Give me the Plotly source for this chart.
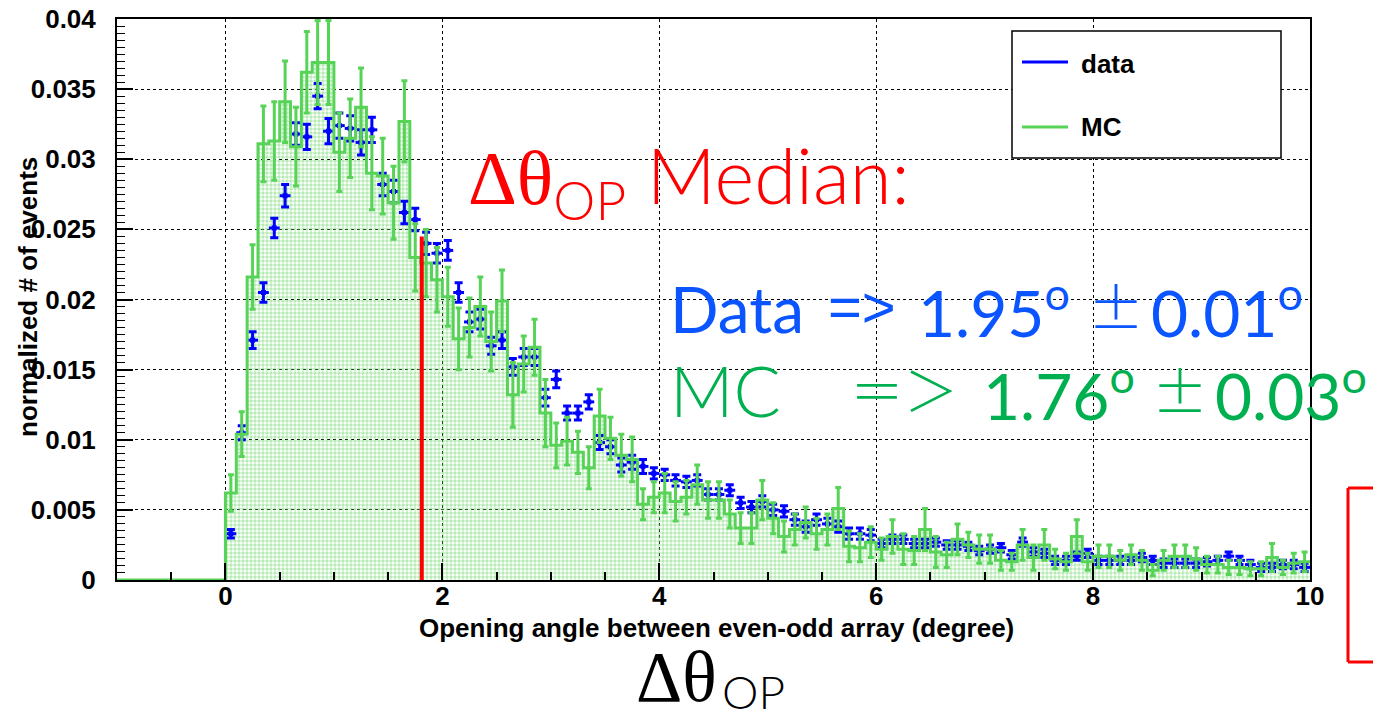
import numpy as np
import plotly.graph_objects as go

# ---------------- data ----------------
bin_width = 0.1
x_start = 0.0

data_vals = [0.0033, 0.0105, 0.0171, 0.0205, 0.0251, 0.0274, 0.0318, 0.0316, 0.0345, 0.0320,
             0.0324, 0.0322, 0.0312, 0.0321, 0.0282, 0.0277, 0.0262, 0.0257, 0.0240, 0.0233,
             0.0235, 0.0205, 0.0184, 0.0186, 0.0167, 0.0171, 0.0152, 0.0159, 0.0159, 0.0130,
             0.0143, 0.0119, 0.0119, 0.0127, 0.0098, 0.0095, 0.0082, 0.0084, 0.0081, 0.0076,
             0.0075, 0.0071, 0.0070, 0.0071, 0.0061, 0.0061, 0.0064, 0.0055, 0.0052, 0.0056,
             0.0050, 0.0049, 0.0043, 0.0038, 0.0043, 0.0040, 0.0038, 0.0033, 0.0033, 0.0032,
             0.0026, 0.0029, 0.0029, 0.0026, 0.0026, 0.0027, 0.0025, 0.0025, 0.0024, 0.0021,
             0.0022, 0.0023, 0.0018, 0.0027, 0.0020, 0.0019, 0.0014, 0.0014, 0.0017, 0.0019,
             0.0014, 0.0014, 0.0014, 0.0014, 0.0016, 0.0014, 0.0012, 0.0012, 0.0012, 0.0012,
             0.0013, 0.0014, 0.0017, 0.0014, 0.0011, 0.0009, 0.0009, 0.0011, 0.0011, 0.0009]

data_errs = [0.0003, 0.0005, 0.0006, 0.0007, 0.0007, 0.0008, 0.0008, 0.0009, 0.0009, 0.0009,
             0.0009, 0.0009, 0.0009, 0.0009, 0.0008, 0.0008, 0.0008, 0.0008, 0.0008, 0.0007,
             0.0007, 0.0007, 0.0007, 0.0007, 0.0006, 0.0006, 0.0006, 0.0006, 0.0006, 0.0006,
             0.0006, 0.0005, 0.0005, 0.0005, 0.0005, 0.0005, 0.0005, 0.0005, 0.0005, 0.0004,
             0.0004, 0.0004, 0.0004, 0.0004, 0.0004, 0.0004, 0.0004, 0.0004, 0.0004, 0.0004,
             0.0004, 0.0004, 0.0004, 0.0004, 0.0004, 0.0004, 0.0004, 0.0004, 0.0004, 0.0004,
             0.0003, 0.0003, 0.0003, 0.0003, 0.0003, 0.0003, 0.0003, 0.0003, 0.0003, 0.0003,
             0.0003, 0.0003, 0.0003, 0.0003, 0.0003, 0.0003, 0.0003, 0.0003, 0.0003, 0.0003,
             0.0003, 0.0003, 0.0003, 0.0003, 0.0003, 0.0003, 0.0003, 0.0003, 0.0003, 0.0003,
             0.0003, 0.0003, 0.0003, 0.0003, 0.0003, 0.0003, 0.0003, 0.0003, 0.0003, 0.0003]

mc_vals = [0.0062, 0.0104, 0.0216, 0.0311, 0.0313, 0.0341, 0.0309, 0.0362, 0.0369, 0.0369,
           0.0305, 0.0315, 0.0337, 0.0290, 0.0288, 0.0269, 0.0327, 0.0230, 0.0226, 0.0214,
           0.0202, 0.0172, 0.0180, 0.0195, 0.0170, 0.0199, 0.0132, 0.0154, 0.0166, 0.0119,
           0.0096, 0.0099, 0.0091, 0.0080, 0.0117, 0.0101, 0.0089, 0.0086, 0.0054, 0.0059,
           0.0062, 0.0056, 0.0059, 0.0068, 0.0057, 0.0057, 0.0047, 0.0037, 0.0037, 0.0057,
           0.0044, 0.0031, 0.0036, 0.0041, 0.0033, 0.0036, 0.0051, 0.0024, 0.0023, 0.0027,
           0.0022, 0.0031, 0.0022, 0.0021, 0.0036, 0.0020, 0.0018, 0.0029, 0.0025, 0.0022,
           0.0022, 0.0014, 0.0013, 0.0025, 0.0016, 0.0025, 0.0015, 0.0013, 0.0031, 0.0013,
           0.0017, 0.0017, 0.0014, 0.0018, 0.0014, 0.0007, 0.0014, 0.0017, 0.0017, 0.0015,
           0.0011, 0.0011, 0.0009, 0.0009, 0.0008, 0.0008, 0.0016, 0.0009, 0.0012, 0.0013]

mc_errs = [0.0013, 0.0016, 0.0023, 0.0027, 0.0028, 0.0029, 0.0028, 0.0029, 0.0030, 0.0030,
           0.0028, 0.0028, 0.0028, 0.0026, 0.0027, 0.0026, 0.0029, 0.0024, 0.0024, 0.0023,
           0.0021, 0.0022, 0.0021, 0.0021, 0.0021, 0.0022, 0.0023, 0.0020, 0.0020, 0.0024,
           0.0016, 0.0017, 0.0015, 0.0015, 0.0019, 0.0015, 0.0015, 0.0016, 0.0011, 0.0011,
           0.0014, 0.0014, 0.0012, 0.0014, 0.0013, 0.0013, 0.0010, 0.0011, 0.0011, 0.0014,
           0.0011, 0.0011, 0.0011, 0.0011, 0.0011, 0.0011, 0.0015, 0.0011, 0.0010, 0.0011,
           0.0008, 0.0012, 0.0011, 0.0010, 0.0015, 0.0011, 0.0009, 0.0011, 0.0009, 0.0010,
           0.0010, 0.0007, 0.0006, 0.0011, 0.0009, 0.0011, 0.0007, 0.0006, 0.0012, 0.0006,
           0.0008, 0.0008, 0.0007, 0.0007, 0.0007, 0.0004, 0.0007, 0.0008, 0.0008, 0.0008,
           0.0006, 0.0006, 0.0005, 0.0005, 0.0005, 0.0005, 0.0010, 0.0005, 0.0007, 0.0007]

x_tick_vals = [0, 2, 4, 6, 8, 10]
x_range = [-1, 10]
y_range = [0, 0.04]
median_line_x = 1.81
median_line_top = 0.0245

legend_labels = ["data", "MC"]
x_title = "Opening angle between even-odd array (degree)"
y_title = "normalized # of events"

# ---------------- derived positions ----------------
n = len(data_vals)
centers = np.round(x_start + bin_width / 2 + bin_width * np.arange(n), 4)
edges = np.round(x_start + bin_width * np.arange(len(mc_vals) + 1), 4)
step_x = [x_range[0]] + list(edges)
step_y = [0.0] + list(mc_vals) + [mc_vals[-1]]

BLUE = "#0000FF"
GREEN = "#57D357"
TXT_BLUE = "#0A55FF"
TXT_GREEN = "#00B050"
W, H = 1373, 722
ML, MR, MT, MB = 117, 63, 19, 142
PW, PH = W - ML - MR, H - MT - MB


def px(xp):
    return (xp - ML) / PW


def py(yp):
    return (H - MB - yp) / PH


fig = go.Figure()

# MC fill (dotted pattern)
fig.add_trace(go.Scatter(
    x=step_x, y=step_y, mode="lines", line=dict(shape="hv", width=0, color=GREEN),
    fill="tozeroy", fillcolor="rgba(0,0,0,0)",
    fillpattern=dict(shape=".", fgcolor="#6FD66F", bgcolor="rgba(255,255,255,0)", size=4, solidity=0.6),
    showlegend=False, hoverinfo="skip"))

# data points with error bars
fig.add_trace(go.Scatter(
    x=centers, y=data_vals, mode="markers",
    marker=dict(symbol="square", size=5, color=BLUE),
    error_x=dict(type="constant", value=bin_width / 2, color=BLUE, thickness=3, width=0),
    error_y=dict(type="data", array=data_errs, color=BLUE, thickness=3, width=4),
    name=legend_labels[0], showlegend=False))

# MC step line
fig.add_trace(go.Scatter(
    x=step_x, y=step_y, mode="lines", line=dict(shape="hv", width=3, color=GREEN),
    name=legend_labels[1], showlegend=False))

# MC error bars
fig.add_trace(go.Scatter(
    x=centers, y=mc_vals, mode="markers", marker=dict(size=1, color=GREEN, opacity=0),
    error_y=dict(type="data", array=mc_errs, color=GREEN, thickness=3, width=3),
    showlegend=False, hoverinfo="skip"))

tickfont = dict(family="Liberation Sans", size=26, color="black", weight="bold")

fig.update_layout(
    width=W, height=H, margin=dict(l=ML, r=MR, t=MT, b=MB, autoexpand=False),
    paper_bgcolor="white", plot_bgcolor="white", showlegend=False,
    xaxis=dict(range=x_range, tickmode="array", tickvals=x_tick_vals, ticks="inside",
               ticklen=17, tickwidth=1.5, tickcolor="black", showline=True, linecolor="black",
               linewidth=2, mirror=True, showgrid=True, gridcolor="black", griddash="dot",
               gridwidth=1.3, zeroline=False, tickfont=tickfont, ticklabelstandoff=-8,
               automargin=False,
               minor=dict(ticks="inside", ticklen=8, tickwidth=1.5, tickcolor="black",
                          dtick=0.5, tick0=0, showgrid=False)),
    yaxis=dict(range=y_range, dtick=0.005, tick0=0, ticks="inside", ticklen=16, tickwidth=1.5,
               tickcolor="black", showline=True, linecolor="black", linewidth=2, mirror=True,
               showgrid=True, gridcolor="black", griddash="dot", gridwidth=1.3, zeroline=False,
               tickfont=tickfont, ticklabelstandoff=14, automargin=False,
               minor=dict(ticks="inside", ticklen=8, tickwidth=1.2, tickcolor="black",
                          dtick=0.0005, tick0=0, showgrid=False)),
)

# median line
fig.add_shape(type="line", xref="x", yref="y", x0=median_line_x, x1=median_line_x,
              y0=0, y1=median_line_top, line=dict(color="red", width=4), layer="above")

# legend box (drawn manually, ROOT style)
fig.add_shape(type="rect", xref="paper", yref="paper", x0=px(1012), x1=px(1281), y0=py(158), y1=py(31),
              line=dict(color="black", width=1.5), fillcolor="white", layer="above")
fig.add_shape(type="line", xref="paper", yref="paper", x0=px(1022), x1=px(1068), y0=py(62), y1=py(62),
              line=dict(color=BLUE, width=3), layer="above")
fig.add_shape(type="line", xref="paper", yref="paper", x0=px(1022), x1=px(1068), y0=py(127), y1=py(127),
              line=dict(color=GREEN, width=3), layer="above")
legfont = dict(family="Liberation Sans", size=26, color="black", weight="bold")
fig.add_annotation(xref="paper", yref="paper", x=px(1079), y=py(64), text=legend_labels[0],
                   showarrow=False, xanchor="left", yanchor="middle", font=legfont)
fig.add_annotation(xref="paper", yref="paper", x=px(1079), y=py(127), text=legend_labels[1],
                   showarrow=False, xanchor="left", yanchor="middle", font=legfont)

# axis titles
fig.add_annotation(xref="paper", yref="paper", x=px(716), y=py(628), text=x_title, showarrow=False,
                   xanchor="center", yanchor="middle",
                   font=dict(family="Liberation Sans", size=26, color="black", weight="bold"))
fig.add_annotation(xref="paper", yref="paper", x=px(28), y=py(297), text=y_title, showarrow=False,
                   textangle=-90, xanchor="center", yanchor="middle",
                   font=dict(family="Liberation Sans", size=26, color="black", weight="bold"))

SERIF = "<span style=\"font-family:'Liberation Serif'\">Δθ</span>"


def txt(x, y, text, size, color, family="Lato", weight=400, yanchor="middle"):
    fig.add_annotation(xref="paper", yref="paper", x=px(x), y=py(y), showarrow=False,
                       xanchor="left", yanchor=yanchor, text=text,
                       font=dict(family=family, size=size, color=color, weight=weight))


# red median title
txt(466, 180, SERIF + "<sub>OP</sub> Median:", 76, "red", weight=300)

# data result line (pieces placed as in the reference)
txt(668, 308, "Data", 64, TXT_BLUE)
txt(826, 306, "=>", 58, TXT_BLUE, family="Liberation Sans")
txt(916, 308, "1.95<sup>o</sup>", 64, TXT_BLUE)
txt(1086, 304, "±", 56, TXT_BLUE, family="Noto Sans CJK TC", weight=300)
txt(1149, 308, "0.01<sup>o</sup>", 64, TXT_BLUE)

# MC result line
txt(668, 390, "MC", 70, TXT_GREEN, weight=300)
txt(848, 388, "＝＞", 54, TXT_GREEN, family="Noto Sans CJK TC", weight=300)
txt(981, 392, "1.76<sup>o</sup>", 64, TXT_GREEN)
txt(1150, 388, "±", 56, TXT_GREEN, family="Noto Sans CJK TC", weight=300)
txt(1213, 392, "0.03<sup>o</sup>", 64, TXT_GREEN)

# bottom label: serif Δθ and sans subscript OP
txt(634, 719, "Δθ", 72, "black", family="Liberation Serif", yanchor="bottom")
txt(720, 721, "OP", 46, "black", weight=300, yanchor="bottom")

# red bracket on the right
for x0, x1, y0, y1 in [(1348, 1348, 488, 662), (1348, 1380, 488, 488), (1348, 1380, 662, 662)]:
    fig.add_shape(type="line", xref="paper", yref="paper", x0=px(x0), x1=px(x1), y0=py(y0), y1=py(y1),
                  line=dict(color="red", width=3), layer="above")

fig.write_html("out.html")
